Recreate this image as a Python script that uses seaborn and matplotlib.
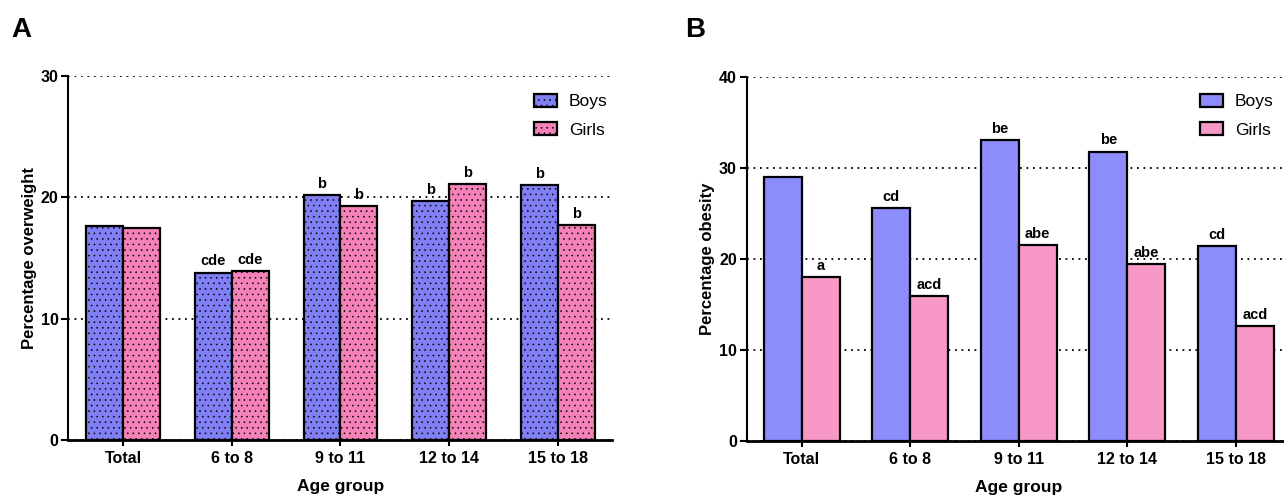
import pandas as pd
import matplotlib
matplotlib.use("Agg")
import matplotlib.pyplot as plt
import seaborn as sns
from matplotlib.patches import Patch

# values
groups = ['Total', '6 to 8', '9 to 11', '12 to 14', '15 to 18']
overweight_boys = [17.6, 13.8, 20.2, 19.7, 21.0]
overweight_girls = [17.5, 13.9, 19.3, 21.1, 17.7]
obesity_boys = [29.0, 25.6, 33.1, 31.8, 21.4]
obesity_girls = [18.0, 15.9, 21.5, 19.4, 12.6]

letters_ow_boys = ['', 'cde', 'b', 'b', 'b']
letters_ow_girls = ['', 'cde', 'b', 'b', 'b']
letters_ob_boys = ['', 'cd', 'be', 'be', 'cd']
letters_ob_girls = ['a', 'acd', 'abe', 'abe', 'acd']

sns.set_style("ticks")
plt.rcParams['font.family'] = ['Liberation Sans', 'DejaVu Sans']
plt.rcParams['hatch.linewidth'] = 0.4
for key in ['text.color', 'axes.labelcolor', 'xtick.color', 'ytick.color', 'axes.edgecolor']:
    plt.rcParams[key] = 'black'


def make_df(boys, girls):
    return pd.DataFrame({
        'group': groups * 2,
        'value': boys + girls,
        'sex': ['Boys'] * len(groups) + ['Girls'] * len(groups),
    })


def draw_panel(ax, df, colors, width, ymax, ylabel, letters_b, letters_g, hatch=None):
    sns.barplot(data=df, x='group', y='value', hue='sex', hue_order=['Boys', 'Girls'],
                palette=colors, width=width, edgecolor='black', linewidth=1.6,
                saturation=1, legend=False, ax=ax, zorder=2)
    if hatch:
        for p in ax.patches:
            p.set_hatch(hatch)
    ax.set_xlim(-0.506, 4.5)
    ax.set_ylim(0, ymax)
    ax.set_yticks(range(0, ymax + 1, 10))
    ax.yaxis.grid(True, linestyle=(0, (1, 2.6)), color='black', linewidth=1.3, zorder=0)
    ax.set_axisbelow(True)
    for s in ['top', 'right']:
        ax.spines[s].set_visible(False)
    ax.spines['left'].set_linewidth(1.5)
    ax.spines['bottom'].set_linewidth(2.0)
    ax.tick_params(axis='y', length=5, width=1.5, pad=2, labelsize=11.5)
    ax.tick_params(axis='x', length=4, width=1.5, pad=4, labelsize=11.5)
    for t in ax.get_xticklabels() + ax.get_yticklabels():
        t.set_fontweight('bold')
    ax.set_ylabel(ylabel, fontsize=12, fontweight='bold')
    ax.set_xlabel('Age group', fontsize=12.5, fontweight='bold', va='top')
    ax.yaxis.set_label_coords(-0.058, 0.5)
    ax.xaxis.set_label_coords(0.5, -0.108)
    ax.bar_label(ax.containers[0], labels=letters_b, padding=3, fontsize=10.5, fontweight='bold')
    ax.bar_label(ax.containers[1], labels=letters_g, padding=3, fontsize=10.5, fontweight='bold')


fig = plt.figure(figsize=(12.84, 4.95), dpi=100)
ax1 = fig.add_axes([0.0532, 0.1111, 0.4234, 0.7354])
ax2 = fig.add_axes([0.5815, 0.1091, 0.4234, 0.7354])

colors_a = {'Boys': '#8080f4', 'Girls': '#f482b8'}
colors_b = {'Boys': '#8c8cfc', 'Girls': '#f898c6'}

draw_panel(ax1, make_df(overweight_boys, overweight_girls), colors_a, 0.68, 30,
           'Percentage overweight', letters_ow_boys, letters_ow_girls, hatch='...')
draw_panel(ax2, make_df(obesity_boys, obesity_girls), colors_b, 0.70, 40,
           'Percentage obesity', letters_ob_boys, letters_ob_girls)

for ax, colors, hatch, x0 in [(ax1, colors_a, '...', 0.4159), (ax2, colors_b, None, 0.9346)]:
    handles = [Patch(facecolor=colors[k], edgecolor='black', linewidth=1.6, hatch=hatch, label=k)
               for k in ['Boys', 'Girls']]
    ax.legend(handles=handles, loc='upper left', bbox_to_anchor=(x0, 0.81),
              bbox_transform=fig.transFigure, frameon=False, fontsize=12.5,
              handlelength=1.3, handleheight=0.75, handletextpad=0.7,
              labelspacing=0.75, borderpad=0, borderaxespad=0)

fig.text(0.009, 0.925, 'A', fontsize=20, fontweight='bold', va='baseline')
fig.text(0.5335, 0.925, 'B', fontsize=20, fontweight='bold', va='baseline')

fig.savefig('out.png', dpi=100)
